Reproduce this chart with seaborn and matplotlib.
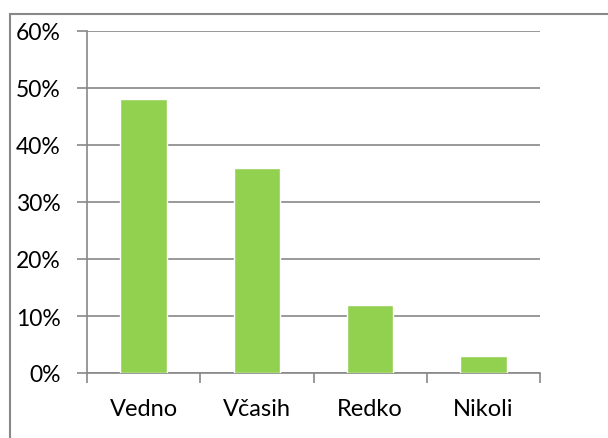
import matplotlib
matplotlib.use("Agg")
import matplotlib.pyplot as plt
import seaborn as sns
import pandas as pd
from matplotlib.patches import Rectangle
from matplotlib.ticker import FixedLocator, PercentFormatter

categories = ["Vedno", "Včasih", "Redko", "Nikoli"]
values = [0.48, 0.36, 0.12, 0.03]
yticks = [0, 0.1, 0.2, 0.3, 0.4, 0.5, 0.6]

sns.set_theme(style="white")
plt.rcParams['font.family'] = ['Lato', 'DejaVu Sans']

df = pd.DataFrame({"cat": categories, "val": values})

fig = plt.figure(figsize=(6.08, 4.39), dpi=100)
ax = fig.add_axes([87/608, 1-374/439, (540-87)/608, (374-32)/439])

sns.barplot(data=df, x="cat", y="val", color="#92D050", saturation=1,
            width=0.41, ax=ax, zorder=3)

ax.set_xlim(-0.5, 3.5)
ax.set_ylim(0, 0.6)
ax.set_yticks(yticks)
ax.yaxis.set_major_formatter(PercentFormatter(1.0, decimals=0))
ax.yaxis.grid(True, color="#888888", linewidth=1.2, zorder=0)
ax.set_axisbelow(True)

ax.set_xlabel("")
ax.set_ylabel("")
ax.tick_params(axis="x", which="major", length=0, pad=18, labelsize=17, colors="black")
ax.xaxis.set_minor_locator(FixedLocator([-0.5, 0.5, 1.5, 2.5, 3.5]))
ax.tick_params(axis="x", which="minor", length=7, width=1.2, color="#888888", direction="out", bottom=True)
ax.tick_params(axis="y", which="major", length=7, width=1.2, color="#888888", pad=12, labelsize=16.5, left=True, labelcolor="black")

for s in ["top", "right"]:
    ax.spines[s].set_visible(False)
for s in ["left", "bottom"]:
    ax.spines[s].set_color("#888888")
    ax.spines[s].set_linewidth(1.2)

fig.patches.append(Rectangle((10/608, -0.1), 1.2, 1.1 - 15/439, transform=fig.transFigure,
                             fill=False, edgecolor="#888888", linewidth=1.5, zorder=0))

fig.savefig("out.png", dpi=100)
